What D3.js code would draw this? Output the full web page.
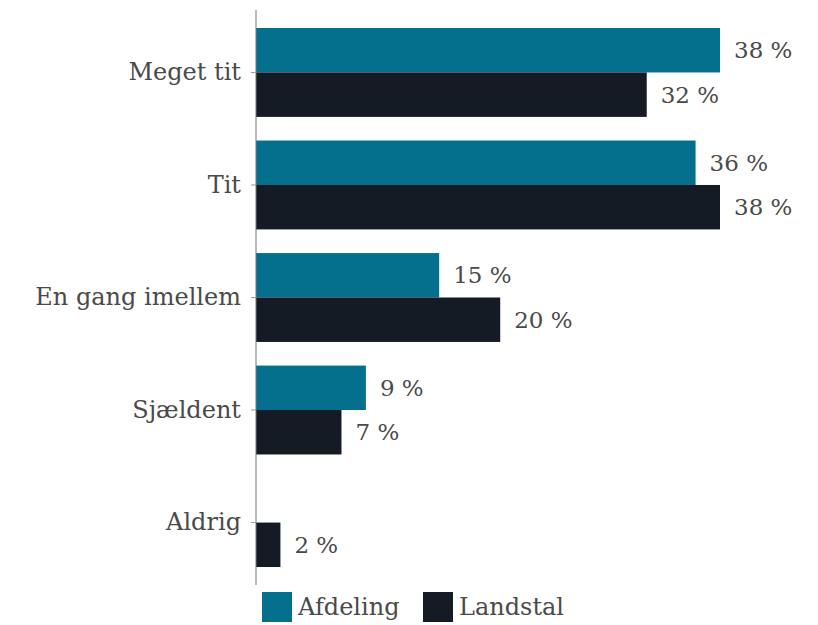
<!DOCTYPE html>
<html>
<head>
<meta charset="utf-8">
<script src="https://cdn.jsdelivr.net/npm/d3@7"></script>
<style>
  body { margin: 0; background: #fff; }
  text { font-family: "DejaVu Serif", serif; fill: #4a4a4a; }
</style>
</head>
<body>
<svg id="vis" width="818" height="625"></svg>
<script>
// categories and series
const categories = ["Meget tit", "Tit", "En gang imellem", "Sjældent", "Aldrig"];
const seriesNames = ["Afdeling", "Landstal"];
const afdeling = [38, 36, 15, 9, 0];
const landstal = [32, 38, 20, 7, 2];
const colours = ["#05708d", "#151b24"];

const svg = d3.select("#vis");

// x: percent -> pixels, axis sits at x=256
const x = d3.scaleLinear().domain([0, 38]).range([256, 720]);

// y: one band per category
const y = d3.scaleBand()
    .domain(categories)
    .range([10, 585])
    .paddingInner(0.21)
    .paddingOuter(0.16);

// inner band for the two series
const ySub = d3.scaleBand()
    .domain(seriesNames)
    .range([0, y.bandwidth()]);

const rows = categories.map(function(c, i){
    return {cat: c, values: [
        {name: "Afdeling", v: afdeling[i]},
        {name: "Landstal", v: landstal[i]}
    ]};
});

const groups = svg.selectAll("g.row")
    .data(rows)
    .enter()
    .append("g")
    .attr("class", "row")
    .attr("transform", function(d){ return `translate(0, ${y(d.cat)})`; });

groups.selectAll("rect")
    .data(function(d){ return d.values; })
    .enter()
    .append("rect")
    .attr("x", x(0))
    .attr("y", function(d){ return ySub(d.name); })
    .attr("width", function(d){ return x(d.v) - x(0); })
    .attr("height", ySub.bandwidth())
    .style("fill", function(d, i){ return colours[i]; });

// value labels, skip the empty bar
groups.selectAll("text.val")
    .data(function(d){ return d.values.filter(function(v){ return v.v > 0; }); })
    .enter()
    .append("text")
    .attr("class", "val")
    .attr("x", function(d){ return x(d.v) + 14; })
    .attr("y", function(d){ return ySub(d.name) + ySub.bandwidth() / 2 + 8; })
    .style("font-size", "23px")
    .text(function(d){ return d.v + " %"; });

// y axis with category labels
const yAxis = d3.axisLeft(y).tickSize(5).tickPadding(10);
const axisG = svg.append("g")
    .attr("transform", `translate(${x(0)}, 0)`)
    .call(yAxis);
axisG.select(".domain").attr("stroke", "#777").attr("d", "M0,10V585");
axisG.selectAll(".tick line").attr("stroke", "#999");
axisG.selectAll(".tick text")
    .style("font-size", "24px")
    .style("font-family", "DejaVu Serif, serif")
    .attr("fill", "#4a4a4a");

// legend
const legend = svg.append("g").attr("transform", "translate(262, 592)");
const legendX = [0, 161];
seriesNames.forEach(function(name, i){
    legend.append("rect")
        .attr("x", legendX[i])
        .attr("y", 0)
        .attr("width", 30)
        .attr("height", 30)
        .style("fill", colours[i]);
    legend.append("text")
        .attr("x", legendX[i] + 36)
        .attr("y", 23)
        .style("font-size", "24px")
        .text(name);
});
</script>
</body>
</html>
